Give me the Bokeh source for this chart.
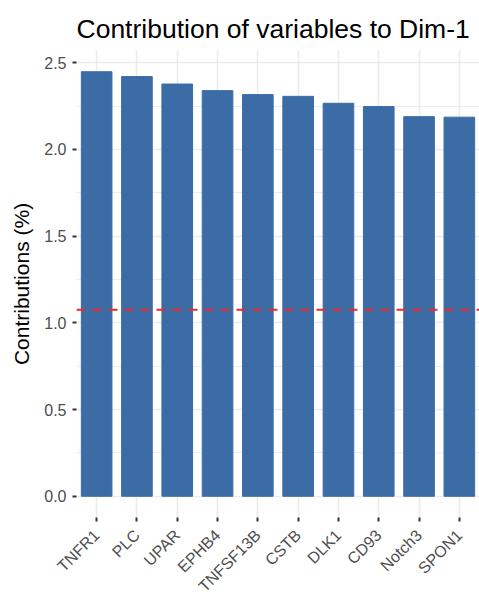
import math
from bokeh.plotting import figure
from bokeh.models import ColumnDataSource, FactorRange, Range1d, Span, FixedTicker, NumeralTickFormatter
from bokeh.embed import file_html
from bokeh.resources import INLINE

variables = ["TNFR1", "PLC", "UPAR", "EPHB4", "TNFSF13B", "CSTB", "DLK1", "CD93", "Notch3", "SPON1"]
contrib = [2.448, 2.420, 2.377, 2.339, 2.316, 2.306, 2.266, 2.247, 2.189, 2.186]
expected = 1.075
y_ticks = [0.0, 0.5, 1.0, 1.5, 2.0, 2.5]
y_minor = [0.25, 0.75, 1.25, 1.75, 2.25]

FONT = "Liberation Sans"
BAR = "#3B6CA6"

src = ColumnDataSource(dict(var=variables, val=contrib))

p = figure(
    x_range=FactorRange(*variables, start=-0.1, end=10.1),
    y_range=Range1d(-0.1224, 2.5704),
    frame_width=403, frame_height=467,
    min_border_left=76, min_border_right=0, min_border_top=50, min_border_bottom=81,
    output_backend="svg", toolbar_location=None,
    title="Contribution of variables to Dim-1",
)
p.outline_line_color = None
p.background_fill_color = "white"
p.border_fill_color = "white"

p.title.text_font = FONT
p.title.text_font_size = "26.5px"
p.title.text_font_style = "normal"
p.title.text_color = "black"
p.title.align = "left"
p.title.standoff = 14

p.vbar(x="var", top="val", bottom=0, width=0.76, source=src,
       fill_color=BAR, line_color=BAR, line_width=1)

p.add_layout(Span(location=expected, dimension="width", line_color="#F0262B",
                  line_dash="9 7", line_width=2))

# grid
p.xgrid.grid_line_color = "#EBEBEB"
p.xgrid.grid_line_width = 1.6
p.ygrid.grid_line_color = "#EBEBEB"
p.ygrid.grid_line_width = 1.6
p.ygrid.minor_grid_line_color = "#EBEBEB"
p.ygrid.minor_grid_line_width = 0.9

# y axis
p.yaxis.ticker = FixedTicker(ticks=y_ticks, minor_ticks=y_minor)
p.yaxis.formatter = NumeralTickFormatter(format="0.0")
p.yaxis.axis_label = "Contributions (%)"
p.yaxis.axis_label_text_font = FONT
p.yaxis.axis_label_text_font_size = "21px"
p.yaxis.axis_label_text_font_style = "normal"
p.yaxis.axis_label_text_color = "black"
p.yaxis.axis_label_standoff = 8

for ax in (p.xaxis, p.yaxis):
    ax.axis_line_color = None
    ax.major_tick_line_color = "#333333"
    ax.major_tick_line_width = 2
    ax.major_tick_out = 4
    ax.major_tick_in = 0
    ax.minor_tick_line_color = None
    ax.major_label_text_font = FONT
    ax.major_label_text_font_size = "16px"
    ax.major_label_text_color = "#4D4D4D"

p.yaxis.major_label_standoff = 6
p.xaxis.major_label_standoff = 11
p.xaxis.major_label_orientation = math.pi / 4

open("out.html", "w").write(file_html(p, INLINE))
